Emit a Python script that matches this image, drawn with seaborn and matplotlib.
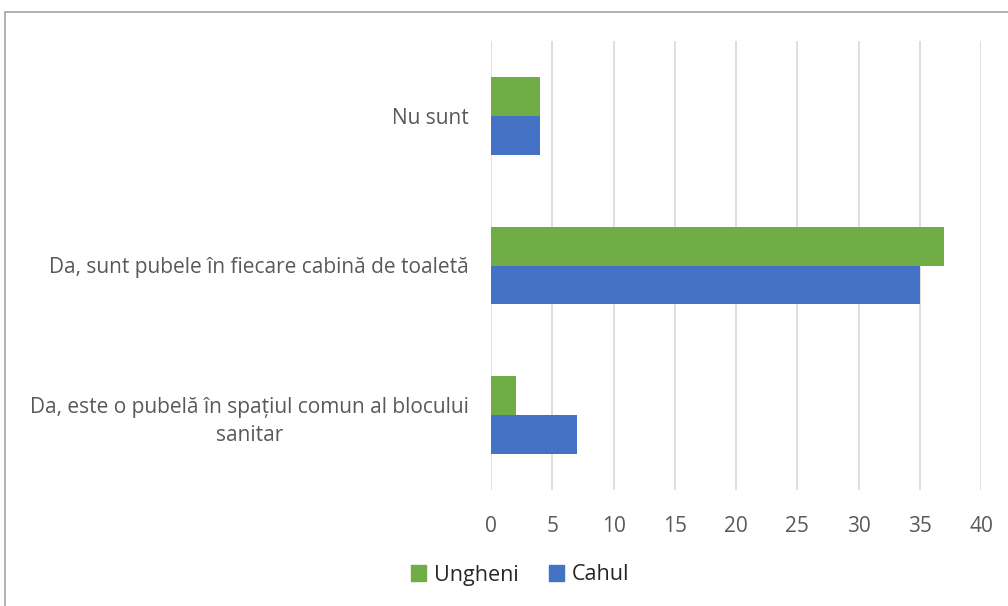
import pandas as pd
import seaborn as sns
import matplotlib.pyplot as plt
from matplotlib.lines import Line2D

# =====================================================
# DATA
# =====================================================

categories = [
    "Nu sunt",
    "Da, sunt pubele în fiecare cabină de toaletă",
    "Da, este o pubelă în spațiul comun al blocului\nsanitar",
]

ungheni = [4, 37, 2]
cahul = [4, 35, 7]

series_names = ["Ungheni", "Cahul"]
x_ticks = [0, 5, 10, 15, 20, 25, 30, 35, 40]

df = pd.DataFrame({
    "categorie": categories * 2,
    "valoare": ungheni + cahul,
    "raion": [series_names[0]] * 3 + [series_names[1]] * 3,
})

# =====================================================
# PLOT
# =====================================================

sns.set_style("white")
plt.rcParams["font.family"] = ["Open Sans", "DejaVu Sans"]

fig = plt.figure(figsize=(10.08, 6.06), dpi=100)
ax = fig.add_axes([491 / 1008, 1 - 490 / 606, 490 / 1008, 449 / 606])

sns.barplot(
    data=df,
    x="valoare",
    y="categorie",
    hue="raion",
    order=categories,
    hue_order=series_names,
    palette=["#70AD47", "#4472C4"],
    orient="h",
    width=0.52,
    saturation=1,
    linewidth=0,
    ax=ax,
)

ax.set_xlim(0, 40)
ax.set_xticks(x_ticks)
ax.set_xlabel("")
ax.set_ylabel("")
ax.grid(axis="x", color="#D9D9D9", linewidth=1.2)
ax.set_axisbelow(True)
for s in ax.spines.values():
    s.set_visible(False)

ax.tick_params(axis="both", length=0, labelcolor="#595959", labelsize=15)
ax.tick_params(axis="x", pad=19)
ax.tick_params(axis="y", pad=16)
for lab in ax.get_yticklabels():
    lab.set_multialignment("center")
    lab.set_linespacing(1.45)

ax.get_legend().remove()
handles = [
    plt.Rectangle((0, 0), 1, 1, color="#70AD47"),
    plt.Rectangle((0, 0), 1, 1, color="#4472C4"),
]
fig.legend(
    handles,
    series_names,
    loc="center",
    bbox_to_anchor=(520 / 1008, 1 - 575 / 606),
    ncol=2,
    frameon=False,
    fontsize=15.5,
    handlelength=0.7,
    handleheight=0.7,
    handletextpad=0.35,
    columnspacing=1.4,
    labelcolor="#262626",
)

# chart border (top and left visible)
fig.add_artist(Line2D([5 / 1008, 1.0], [1 - 12 / 606, 1 - 12 / 606],
                      color="#A6A6A6", linewidth=1.2, transform=fig.transFigure))
fig.add_artist(Line2D([5 / 1008, 5 / 1008], [0, 1 - 12 / 606],
                      color="#A6A6A6", linewidth=1.2, transform=fig.transFigure))

fig.savefig("out.png", dpi=100)
